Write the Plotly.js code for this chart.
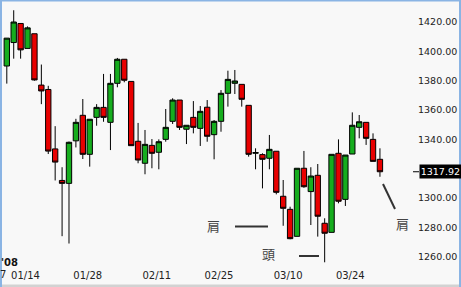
<!DOCTYPE html>
<html>
<head>
<meta charset="utf-8">
<script src="https://cdn.plot.ly/plotly-3.0.1.min.js"></script>
<style>
html,body{margin:0;padding:0;background:#f8f8f8;}
#chart{width:461px;height:287px;}
</style>
</head>
<body>
<div id="chart"></div>
<script>
// ---- data (daily candles) ----
var dates = ["2008-01-09","2008-01-10","2008-01-11","2008-01-14","2008-01-15","2008-01-16","2008-01-17","2008-01-18",
 "2008-01-22","2008-01-23","2008-01-24","2008-01-25","2008-01-28","2008-01-29","2008-01-30","2008-01-31",
 "2008-02-01","2008-02-04","2008-02-05","2008-02-06","2008-02-07","2008-02-08","2008-02-11","2008-02-12",
 "2008-02-13","2008-02-14","2008-02-15","2008-02-19","2008-02-20","2008-02-21","2008-02-22","2008-02-25",
 "2008-02-26","2008-02-27","2008-02-28","2008-02-29","2008-03-03","2008-03-04","2008-03-05","2008-03-06",
 "2008-03-07","2008-03-10","2008-03-11","2008-03-12","2008-03-13","2008-03-14","2008-03-17","2008-03-18",
 "2008-03-19","2008-03-20","2008-03-24","2008-03-25","2008-03-26","2008-03-27","2008-03-28"];
var opens = [1390,1406,1419,1402,1412,1377,1374,1333.5,
 1312,1310,1339,1356.4,1329.8,1355,1361.8,1351.6,
 1378.2,1394.6,1379.5,1338.7,1323.7,1335.9,1331.2,1340,
 1352.3,1366.8,1346.9,1355,1347.5,1361.9,1343.2,1352.3,
 1371.4,1378.2,1377.5,1363.2,1330.5,1329.6,1327.1,1331.9,
 1301.2,1292.3,1273.9,1320.3,1304.4,1315.5,1282.8,1276.6,
 1330.5,1299.1,1330,1348.2,1351.6,1340,1326.4];
var highs = [1409,1428,1419,1417,1412,1391,1376.5,1349,
 1321,1338.5,1354,1367.5,1353.7,1364,1384.6,1384.6,
 1395.5,1394.6,1379.5,1351.2,1346.4,1340.2,1340,1360.7,
 1368,1366.8,1349.6,1366.1,1362.7,1366.8,1353.2,1373.6,
 1386.8,1387.3,1377.5,1363.2,1333.9,1330.5,1343,1331.9,
 1312.3,1294.1,1320.3,1332.1,1321,1323.2,1286.2,1329.8,
 1340,1329.3,1358.4,1356.6,1351.6,1344.1,1333.9];
var lows = [1378,1395,1395,1402,1380,1364,1330,1312,
 1274,1269,1334.5,1326.6,1321.4,1349.3,1352,1332.7,
 1375.5,1378.9,1335.7,1323.7,1316.2,1320.3,1319.6,1338.4,
 1350.5,1346.4,1336.8,1344.1,1335.5,1338.4,1326.4,1345.2,
 1362.3,1370.9,1362.3,1328.2,1319.6,1306.6,1319.6,1302.5,
 1281.1,1271.9,1273.9,1307,1281.6,1273.7,1256.2,1276.6,
 1296.4,1294.6,1330,1340.7,1336.2,1325,1314.5];
var closes = [1409,1420,1401,1416,1380.5,1373,1332,1324.5,
 1310,1338,1351.6,1329.8,1353.7,1361.8,1355,1378.2,
 1394.6,1380.3,1335.7,1325.9,1336.6,1330.5,1338.4,1348.2,
 1366.8,1348.2,1349.6,1348.2,1359.1,1342.1,1352.3,1371.4,
 1380.9,1379.8,1367.3,1329.8,1331,1326.4,1333.2,1303.9,
 1293,1272.3,1320.3,1307.7,1315,1287.6,1276,1329.8,
 1297.8,1329.3,1349.6,1352,1340.7,1325,1317.92];
var tickDates = ["2008-01-14","2008-01-28","2008-02-11","2008-02-25","2008-03-10","2008-03-24"];
var tickLabels = ["01/14","01/28","02/11","02/25","03/10","03/24"];
var priceTicks = [1260,1280,1300,1340,1360,1380,1400,1420];
var lastPrice = 1317.92;

// ---- layout geometry ----
var W = 461, H = 287, ML = 0, MR = 48, MT = 0, MB = 21;
var PW = W - ML - MR, PH = H - MT - MB;
var xStart = -0.984, xEnd = xStart + PW / 6.91;
var yTop = 1420 + 22 / 1.467, yBot = 1420 - (PH - 22) / 1.467;
function px(x) { return (x - ML) / PW; }
function py(y) { return (H - MB - y) / PH; }

var trace = {
  type: 'candlestick',
  x: dates, open: opens, high: highs, low: lows, close: closes,
  increasing: {line: {color: '#000000', width: 1}, fillcolor: '#16ad1e'},
  decreasing: {line: {color: '#000000', width: 1}, fillcolor: '#e80000'},
  whiskerwidth: 0,
  hoverinfo: 'skip'
};

var lineCol = '#333333';
var shapes = [
  // frame
  {type:'rect', xref:'paper', yref:'paper', x0:px(0), x1:px(2), y0:py(H), y1:py(0), fillcolor:'#8ab4e4', line:{width:0}},
  {type:'rect', xref:'paper', yref:'paper', x0:px(0), x1:px(W), y0:py(1.5), y1:py(0), fillcolor:'#8ab4e4', line:{width:0}},
  {type:'rect', xref:'paper', yref:'paper', x0:px(459), x1:px(W), y0:py(H), y1:py(0), fillcolor:'#8ab4e4', line:{width:0}},
  {type:'rect', xref:'paper', yref:'paper', x0:px(2), x1:px(459), y0:py(H), y1:py(284.5), fillcolor:'#d2d2d2', line:{width:0}},
  // pattern marks
  {type:'line', xref:'paper', yref:'paper', x0:px(235), x1:px(268), y0:py(226.5), y1:py(226.5), line:{color:lineCol, width:2}},
  {type:'line', xref:'paper', yref:'paper', x0:px(299), x1:px(319), y0:py(256), y1:py(256), line:{color:lineCol, width:2}},
  {type:'line', xref:'paper', yref:'paper', x0:px(383), x1:px(395), y0:py(184), y1:py(209), line:{color:lineCol, width:2}},
  // last price marker
  {type:'line', xref:'paper', yref:'y', x0:px(413), x1:px(419), y0:lastPrice, y1:lastPrice, line:{color:'#000', width:1}}
];

var cjk = '"Noto Sans CJK JP", sans-serif';
function note(x, y, text, font, xa) {
  return {xref:'paper', yref:'paper', x:px(x), y:py(y), text:text, showarrow:false, borderpad:0,
          xanchor: xa || 'center', yanchor:'middle', font:font};
}
var annotations = [
  note(213, 225, '肩', {family:cjk, size:13, color:'#444'}),
  note(268, 253, '頭', {family:cjk, size:13, color:'#444'}),
  note(402, 223, '肩', {family:cjk, size:13, color:'#444'}),
  note(0, 262.5, "<b>'08</b>", {family:'DejaVu Sans', size:10, color:'#111'}, 'left'),
  note(6.5, 274, '7', {family:'DejaVu Sans', size:10, color:'#222'}, 'right'),
  {xref:'paper', yref:'y', x:px(419), y:lastPrice, xanchor:'left', yanchor:'middle', text:lastPrice.toFixed(2), showarrow:false,
   bgcolor:'#000000', borderpad:1, width:39, align:'right', font:{family:'DejaVu Sans', size:9.5, color:'#ffffff'}}
];

var layout = {
  width: W, height: H,
  margin: {l: ML, r: MR, t: MT, b: MB, pad: 0},
  paper_bgcolor: '#f8f8f8', plot_bgcolor: '#f8f8f8',
  showlegend: false,
  boxgap: 0.12, boxgroupgap: 0.12,
  xaxis: {
    type: 'category', range: [xStart, xEnd],
    showgrid: false, zeroline: false, showline: false, ticks: '',
    tickmode: 'array', tickvals: tickDates, ticktext: tickLabels,
    tickfont: {family: 'DejaVu Sans', size: 10, color: '#222'},
    ticklabelshift: -2, ticklabelstandoff: 2,
    rangeslider: {visible: false}, fixedrange: true
  },
  yaxis: {
    side: 'right', range: [yBot, yTop],
    showgrid: false, zeroline: false, showline: false, ticks: '',
    tickmode: 'array', tickvals: priceTicks, ticktext: priceTicks.map(function(v){return v.toFixed(2);}),
    tickfont: {family: 'DejaVu Sans', size: 9.5, color: '#222'},
    ticklabelstandoff: 4, fixedrange: true
  },
  shapes: shapes,
  annotations: annotations
};

Plotly.newPlot('chart', [trace], layout, {staticPlot: true, displayModeBar: false});
</script>
</body>
</html>
